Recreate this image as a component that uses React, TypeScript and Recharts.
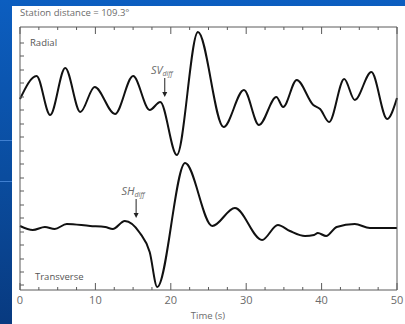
import React from "react";
import { LineChart, Line, XAxis, YAxis, ReferenceDot } from "recharts";

// time (s) and amplitude (arbitrary units, positive up)
const radialTime = [0, 2.2, 4.0, 6.0, 8.0, 9.9, 12.6, 15.0, 17.2, 18.6, 20.8, 23.6, 27.0, 29.7, 31.7, 34.0, 34.9, 36.7, 38.9, 39.8, 41.0, 43.0, 44.4, 46.6, 48.7, 50];
const radialAmp = [1, 24, -15, 32, -12, 13, -14, 24, -10, -2, -55, 68, -27, 10, -25, 3, -7, 20, -5, -9, -22, 21, 0, 28, -19, 2];

const transverseTime = [0, 1.7, 3.3, 4.6, 6.2, 9.3, 11.3, 12.3, 13.9, 15.9, 17.2, 18.2, 21.9, 25.5, 28.5, 32.1, 34.2, 35.8, 37.8, 39.0, 39.5, 40.6, 42.0, 44.4, 46.4, 48.0, 50];
const transverseAmp = [1, -3, 0, -2, 3, 1, 0, -2, 6, -6, -25, -60, 64, 1, 19, -13, 2, -4, -9, -8, -6, -9, 0, 3, -1, -1, -1];

const timeTicks = [0, 2.5, 5, 7.5, 10, 12.5, 15, 17.5, 20, 22.5, 25, 27.5, 30, 32.5, 35, 37.5, 40, 42.5, 45, 47.5, 50];
const leftTicks = [5, 18, 31, 45, 58, 72, 85, 99, 112, 126, 139, 153, 166, 180, 193, 207, 220, 234, 247];

// arrival markers: time and amplitude of the arrow tip
const svArrow = { t: 19.2, amp: 3 };
const shArrow = { t: 15.4, amp: 9 };

const RADIAL_BASE = 190;
const TRANS_BASE = 63;

const radialData = radialTime.map((t, i) => ({ t, v: RADIAL_BASE + radialAmp[i] }));
const transData = transverseTime.map((t, i) => ({ t, v: TRANS_BASE + transverseAmp[i] }));

const AXIS = "#5a5a5a";
const TXT = "#6b6b6b";
const FONT = "'Open Sans', 'Noto Sans', sans-serif";

const BottomTick = (props: any) => {
  const { x, y, payload } = props;
  const major = payload.value % 10 === 0;
  return (
    <g>
      <line x1={x} x2={x} y1={y} y2={y - (major ? 7 : 3)} stroke={AXIS} />
      {major && (
        <text x={x} y={y + 14} textAnchor="middle" fontSize={11} fill={TXT} fontFamily={FONT}>
          {payload.value}
        </text>
      )}
    </g>
  );
};

const TopTick = (props: any) => {
  const { x, y, payload } = props;
  const major = payload.value % 10 === 0;
  return <line x1={x} x2={x} y1={y} y2={y + (major ? 7 : 3)} stroke={AXIS} />;
};

const LeftTick = (props: any) => {
  const { x, y } = props;
  return <line x1={x} x2={x + 4} y1={y} y2={y} stroke={AXIS} />;
};

const arrow = (label: string) => (p: any) => {
  const { cx, cy } = p;
  return (
    <g>
      <line x1={cx} x2={cx} y1={cy - 19} y2={cy - 4} stroke="#222" strokeWidth={1} />
      <path d={`M${cx - 2.5},${cy - 5} L${cx + 2.5},${cy - 5} L${cx},${cy} Z`} fill="#222" />
      <text x={cx - 3} y={cy - 23} textAnchor="middle" fontSize={11} fill={TXT} fontFamily={FONT} fontStyle="italic">
        {label}
        <tspan fontSize={7} dy={2}>diff</tspan>
      </text>
    </g>
  );
};

export default function App() {
  return (
    <div
      style={{
        position: "fixed",
        left: 0,
        top: 0,
        width: 405,
        height: 324,
        overflow: "hidden",
        background: "linear-gradient(to bottom, #0c5ec0 0%, #0a4c9e 55%, #083a80 100%)",
      }}
    >
      <div style={{ position: "absolute", left: 0, top: 140, width: 12, height: 1, background: "#3f7fd0" }} />
      <div style={{ position: "absolute", left: 0, top: 181, width: 12, height: 1, background: "#3f7fd0" }} />
      <div style={{ position: "absolute", left: 12, top: 6, width: 393, height: 318, background: "#ffffff" }} />
      <div
        style={{
          position: "absolute",
          left: 20,
          top: 6,
          fontSize: 9.5,
          color: TXT,
          fontFamily: FONT,
          whiteSpace: "nowrap",
        }}
      >
        Station distance = 109.3°
      </div>
      <div style={{ position: "absolute", left: 0, top: 0 }}>
        <LineChart width={405} height={324} data={radialData} margin={{ top: 26, right: 7, bottom: 33, left: 19 }}>
          <XAxis
            dataKey="t"
            type="number"
            domain={[0, 50]}
            ticks={timeTicks}
            height={1}
            tickSize={0}
            tickMargin={0}
            tickLine={false}
            tick={BottomTick}
            interval={0}
            axisLine={{ stroke: AXIS }}
          />
          <XAxis
            xAxisId="top"
            orientation="top"
            dataKey="t"
            type="number"
            domain={[0, 50]}
            ticks={timeTicks}
            height={1}
            tickSize={0}
            tickMargin={0}
            tickLine={false}
            tick={TopTick}
            interval={0}
            axisLine={{ stroke: AXIS }}
          />
          <YAxis
            type="number"
            domain={[0, 263]}
            ticks={leftTicks}
            width={1}
            tickSize={0}
            tickMargin={0}
            tickLine={false}
            tick={LeftTick}
            interval={0}
            axisLine={{ stroke: AXIS }}
          />
          <YAxis
            yAxisId="right"
            orientation="right"
            type="number"
            domain={[0, 263]}
            width={1}
            tick={false}
            tickLine={false}
            axisLine={{ stroke: AXIS }}
          />
          <Line
            data={radialData}
            dataKey="v"
            type="monotone"
            stroke="#111"
            strokeWidth={2}
            dot={false}
            isAnimationActive={false}
          />
          <Line
            data={transData}
            dataKey="v"
            type="monotone"
            stroke="#111"
            strokeWidth={2}
            dot={false}
            isAnimationActive={false}
          />
          <ReferenceDot x={svArrow.t} y={RADIAL_BASE + svArrow.amp} shape={arrow("SV")} />
          <ReferenceDot x={shArrow.t} y={TRANS_BASE + shArrow.amp} shape={arrow("SH")} />
        </LineChart>
      </div>
      <div style={{ position: "absolute", left: 30, top: 36, fontSize: 9.5, color: "#555", fontFamily: FONT }}>
        Radial
      </div>
      <div style={{ position: "absolute", left: 35, top: 270, fontSize: 9.5, color: "#555", fontFamily: FONT }}>
        Transverse
      </div>
      <div
        style={{
          position: "absolute",
          left: 0,
          width: 416,
          top: 309,
          textAlign: "center",
          fontSize: 9.5,
          color: TXT,
          fontFamily: FONT,
        }}
      >
        Time (s)
      </div>
    </div>
  );
}
